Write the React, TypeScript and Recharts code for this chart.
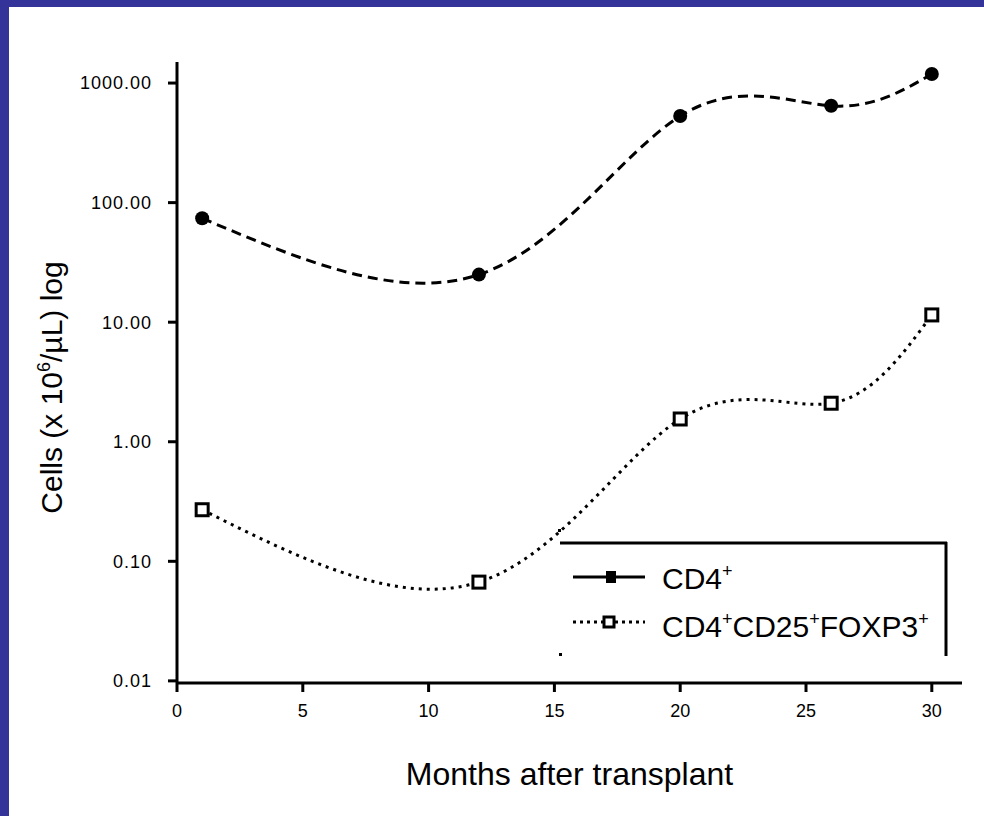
import React from 'react';
import { LineChart, Line, XAxis, YAxis, Legend, Label } from 'recharts';

// ---- data ----
const months = [1, 12, 20, 26, 30];
const cd4Values = [74, 25, 530, 645, 1190];
const tregValues = [0.27, 0.067, 1.55, 2.1, 11.5];
const xTicks = [0, 5, 10, 15, 20, 25, 30];
const yTicks = [0.01, 0.1, 1, 10, 100, 1000];
const legendCd4 = [['CD4', '+']];
const legendTreg = [['CD4', '+'], ['CD25', '+'], ['FOXP3', '+']];
const xTitle = 'Months after transplant';
const yTitleParts = ['Cells (x 10', '6', '/\u00B5L) log'];

const data = months.map((m, i) => ({ month: m, cd4: cd4Values[i], treg: tregValues[i] }));

const FONT = '"Liberation Sans", Arial, sans-serif';

const FilledDot = (props: any) => {
  const { cx, cy, index } = props;
  if (cx == null || cy == null) return null;
  return <circle key={`f${index}`} cx={cx} cy={cy} r={7} fill="#000" />;
};

const OpenSquare = (props: any) => {
  const { cx, cy, index } = props;
  if (cx == null || cy == null) return null;
  return (
    <rect key={`o${index}`} x={cx - 6} y={cy - 6} width={12} height={12} fill="#fff" stroke="#000" strokeWidth={3} />
  );
};

const SupText = ({ x, y, parts, size }: { x: number; y: number; parts: string[][]; size: number }) => (
  <text x={x} y={y} fontFamily={FONT} fontSize={size} fill="#000">
    {parts.map((p, i) => (
      <React.Fragment key={i}>
        <tspan dy={i === 0 ? 0 : 12}>{p[0]}</tspan>
        <tspan fontSize={size * 0.6} dy={-12}>{p[1]}</tspan>
      </React.Fragment>
    ))}
  </text>
);

const LegendBox = () => (
  <svg width={392} height={132} style={{ display: 'block' }}>
    <rect x={0} y={0} width={3} height={3} fill="#000" />
    <rect x={1} y={124} width={3} height={3} fill="#000" />
    <line x1={2} y1={14} x2={389} y2={14} stroke="#000" strokeWidth={3} />
    <line x1={388} y1={13} x2={388} y2={127} stroke="#000" strokeWidth={3} />
    {/* row 1 */}
    <line x1={15} y1={48} x2={87} y2={48} stroke="#000" strokeWidth={3} />
    <rect x={48} y={42} width={10} height={12} fill="#000" />
    <SupText x={104} y={60} parts={legendCd4} size={30} />
    {/* row 2 */}
    <line x1={15} y1={93} x2={87} y2={93} stroke="#000" strokeWidth={3} strokeDasharray="3 4" />
    <rect x={46} y={88} width={10} height={10} fill="#fff" stroke="#000" strokeWidth={3} />
    <SupText x={104} y={108} parts={legendTreg} size={30} />
  </svg>
);

const XTitle = (props: any) => {
  const vb = props.viewBox || { x: 0, y: 0, width: 0, height: 0 };
  return (
    <text x={vb.x + vb.width / 2} y={vb.y + 102} textAnchor="middle" fontFamily={FONT} fontSize={32} fill="#000">
      {xTitle}
    </text>
  );
};

const YTitle = (props: any) => {
  const vb = props.viewBox || { x: 0, y: 0, width: 0, height: 0 };
  const cx = vb.x + 5;
  const cy = vb.y + vb.height / 2 + 15;
  return (
    <text
      x={cx}
      y={cy}
      transform={`rotate(-90 ${cx} ${cy})`}
      textAnchor="middle"
      fontFamily={FONT}
      fontSize={30}
      fill="#000"
    >
      <tspan>{yTitleParts[0]}</tspan>
      <tspan fontSize={18} dy={-12}>{yTitleParts[1]}</tspan>
      <tspan dy={12}>{yTitleParts[2]}</tspan>
    </text>
  );
};

export default function App() {
  return (
    <div
      style={{
        position: 'absolute',
        left: 0,
        top: 0,
        width: 984,
        height: 816,
        background: '#fff',
        overflow: 'hidden',
        fontFamily: FONT,
      }}
    >
      <LineChart width={984} height={816} data={data} margin={{ top: 62, right: 22, bottom: 93, left: 57 }}>
        <XAxis
          dataKey="month"
          type="number"
          domain={[0, 31.2]}
          ticks={xTicks}
          allowDataOverflow
          height={40}
          tickSize={9}
          tickMargin={12}
          axisLine={{ stroke: '#000', strokeWidth: 3 }}
          tickLine={{ stroke: '#000', strokeWidth: 3 }}
          tick={{ fill: '#000', fontSize: 18, fontFamily: FONT }}
        >
          <Label content={<XTitle />} />
        </XAxis>
        <YAxis
          type="number"
          scale="log"
          domain={[0.0096, 1500]}
          ticks={yTicks}
          allowDataOverflow
          width={120}
          tickSize={9}
          tickMargin={16}
          tickFormatter={(v: number) => v.toFixed(2)}
          axisLine={{ stroke: '#000', strokeWidth: 3 }}
          tickLine={{ stroke: '#000', strokeWidth: 3 }}
          tick={{ fill: '#000', fontSize: 18, fontFamily: FONT, letterSpacing: 1 }}
        >
          <Label content={<YTitle />} />
        </YAxis>
        <Legend
          layout="horizontal"
          verticalAlign="middle"
          align="center"
          content={() => <LegendBox />}
          wrapperStyle={{ left: 558, top: 529, width: 392, height: 132 }}
        />
        <Line
          type="natural"
          dataKey="cd4"
          stroke="#000"
          strokeWidth={3}
          strokeDasharray="10 6"
          dot={FilledDot}
          activeDot={false}
          isAnimationActive={false}
        />
        <Line
          type="natural"
          dataKey="treg"
          stroke="#000"
          strokeWidth={3}
          strokeDasharray="3 5"
          dot={OpenSquare}
          activeDot={false}
          isAnimationActive={false}
        />
      </LineChart>
      <div style={{ position: 'absolute', left: 0, top: 0, width: 984, height: 7, background: '#333399' }} />
      <div style={{ position: 'absolute', left: 0, top: 0, width: 9, height: 816, background: '#333399' }} />
    </div>
  );
}
